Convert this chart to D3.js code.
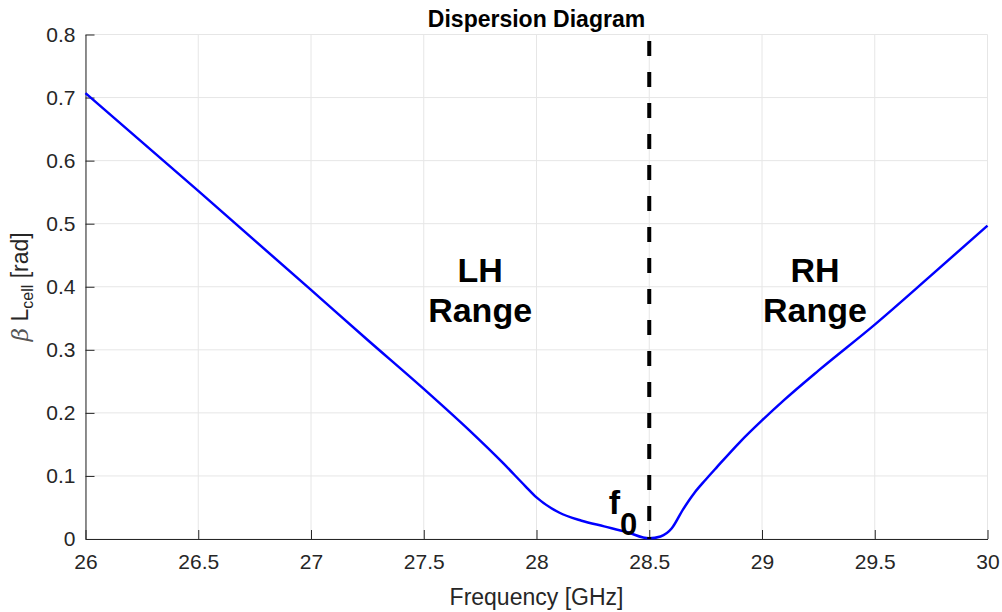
<!DOCTYPE html>
<meta charset="utf-8">
<title>Dispersion Diagram</title>
<style>
  body { margin: 0; background: #fff; }
  text { font-family: "Liberation Sans", Arial, Helvetica, sans-serif; }
  .tick text { fill: #262626; font-size: 21px; }
</style>
<body>
<script src="https://cdn.jsdelivr.net/npm/d3@7"></script>
<script>

// data
var freq = [26, 26.5, 27, 27.25, 27.5, 27.7, 27.85, 27.95, 28.0, 28.1, 28.2, 28.3, 28.4, 28.5,
            28.55, 28.6, 28.65, 28.7, 28.75, 28.8, 28.9, 29.0, 29.1, 29.25, 29.5, 29.75, 30];
var betaL = [0.707, 0.552, 0.395, 0.316, 0.238, 0.173, 0.121, 0.084, 0.066, 0.042, 0.029, 0.020, 0.011, 0.001,
             0.004, 0.017, 0.047, 0.073, 0.094, 0.114, 0.153, 0.188, 0.221, 0.267, 0.340, 0.418, 0.497];
var xTicks = [26, 26.5, 27, 27.5, 28, 28.5, 29, 29.5, 30];
var yTicks = [0, 0.1, 0.2, 0.3, 0.4, 0.5, 0.6, 0.7, 0.8];
var f0 = 28.5;

var W = 1002, H = 612;
var margin = {top: 34.5, right: 14.5, bottom: 73, left: 85.5};
var width = W - margin.left - margin.right;
var height = H - margin.top - margin.bottom;

var x = d3.scaleLinear().domain([26, 30]).range([0, width]);
var y = d3.scaleLinear().domain([0, 0.8]).range([height, 0]);

var svg = d3.select("body").append("svg")
    .attr("width", W)
    .attr("height", H);

var g = svg.append("g")
    .attr("transform", "translate(" + margin.left + "," + margin.top + ")");

// grid
g.selectAll(".vgrid").data(xTicks).enter().append("line")
    .attr("x1", function(d) { return x(d); })
    .attr("x2", function(d) { return x(d); })
    .attr("y1", 0).attr("y2", height)
    .attr("stroke", "#e6e6e6").attr("stroke-width", 1);
g.selectAll(".hgrid").data(yTicks).enter().append("line")
    .attr("y1", function(d) { return y(d); })
    .attr("y2", function(d) { return y(d); })
    .attr("x1", 0).attr("x2", width)
    .attr("stroke", "#e6e6e6").attr("stroke-width", 1);

// axes (ticks pointing inward, box off)
var xAxis = g.append("g")
    .attr("transform", "translate(0," + height + ")")
    .call(d3.axisBottom(x).tickValues(xTicks).tickSizeInner(-9).tickSizeOuter(0)
      .tickPadding(15).tickFormat(d3.format("")));
var yAxis = g.append("g")
    .call(d3.axisLeft(y).tickValues(yTicks).tickSizeInner(-9).tickSizeOuter(0)
      .tickPadding(10).tickFormat(d3.format("")));
[xAxis, yAxis].forEach(function(a) {
  a.select(".domain").attr("stroke", "#262626").attr("stroke-width", 1);
  a.selectAll(".tick line").attr("stroke", "#262626");
  a.selectAll(".tick text").attr("fill", "#262626").style("font-size", "21px");
});

// dispersion curve
var pts = freq.map(function(f, i) { return [f, betaL[i]]; });
g.append("path")
    .datum(pts)
    .attr("fill", "none")
    .attr("stroke", "#0000ff")
    .attr("stroke-width", 2.5)
    .attr("stroke-linejoin", "round")
    .attr("d", d3.line()
      .curve(d3.curveMonotoneX)
      .x(function(d) { return x(d[0]); })
      .y(function(d) { return y(d[1]); }));

// f0 marker
g.append("line")
    .attr("x1", x(f0)).attr("x2", x(f0))
    .attr("y1", y(0.8)).attr("y2", y(0))
    .attr("stroke", "#000")
    .attr("stroke-width", 4)
    .attr("stroke-dasharray", "15,16")
    .attr("stroke-dashoffset", 24.5);

// annotations
function label(txt, fx, vy) {
  g.append("text")
    .attr("x", x(fx)).attr("y", y(vy))
    .attr("text-anchor", "middle")
    .style("font-size", "34px")
    .style("font-weight", "bold")
    .attr("fill", "#000")
    .text(txt);
}
label("LH", 27.75, 0.407);
label("Range", 27.75, 0.344);
label("RH", 29.235, 0.407);
label("Range", 29.235, 0.344);

var f0t = g.append("text")
    .attr("x", x(28.32)).attr("y", y(0.04))
    .style("font-weight", "bold")
    .attr("fill", "#000");
f0t.append("tspan").style("font-size", "34px").text("f");
f0t.append("tspan").style("font-size", "31px").attr("dy", 21).text("0");

// title
svg.append("text")
    .attr("x", margin.left + width / 2).attr("y", 26.5)
    .attr("text-anchor", "middle")
    .style("font-size", "23px")
    .style("font-weight", "bold")
    .attr("fill", "#000")
    .text("Dispersion Diagram");

// axis labels
svg.append("text")
    .attr("x", margin.left + width / 2).attr("y", 605)
    .attr("text-anchor", "middle")
    .style("font-size", "23px")
    .attr("fill", "#262626")
    .text("Frequency [GHz]");

var yl = svg.append("text")
    .attr("transform", "translate(28," + (margin.top + height / 2) + ") rotate(-90)")
    .attr("text-anchor", "middle")
    .style("font-size", "23px")
    .attr("fill", "#262626");
yl.append("tspan").style("font-family", "'DejaVu Serif', serif").style("font-style", "italic")
  .attr("fill", "#555").text("\u03b2");
yl.append("tspan").text(" L");
yl.append("tspan").style("font-size", "16px").attr("dy", 5).text("cell");
yl.append("tspan").attr("dy", -5).text(" [rad]");

</script>
</body>
